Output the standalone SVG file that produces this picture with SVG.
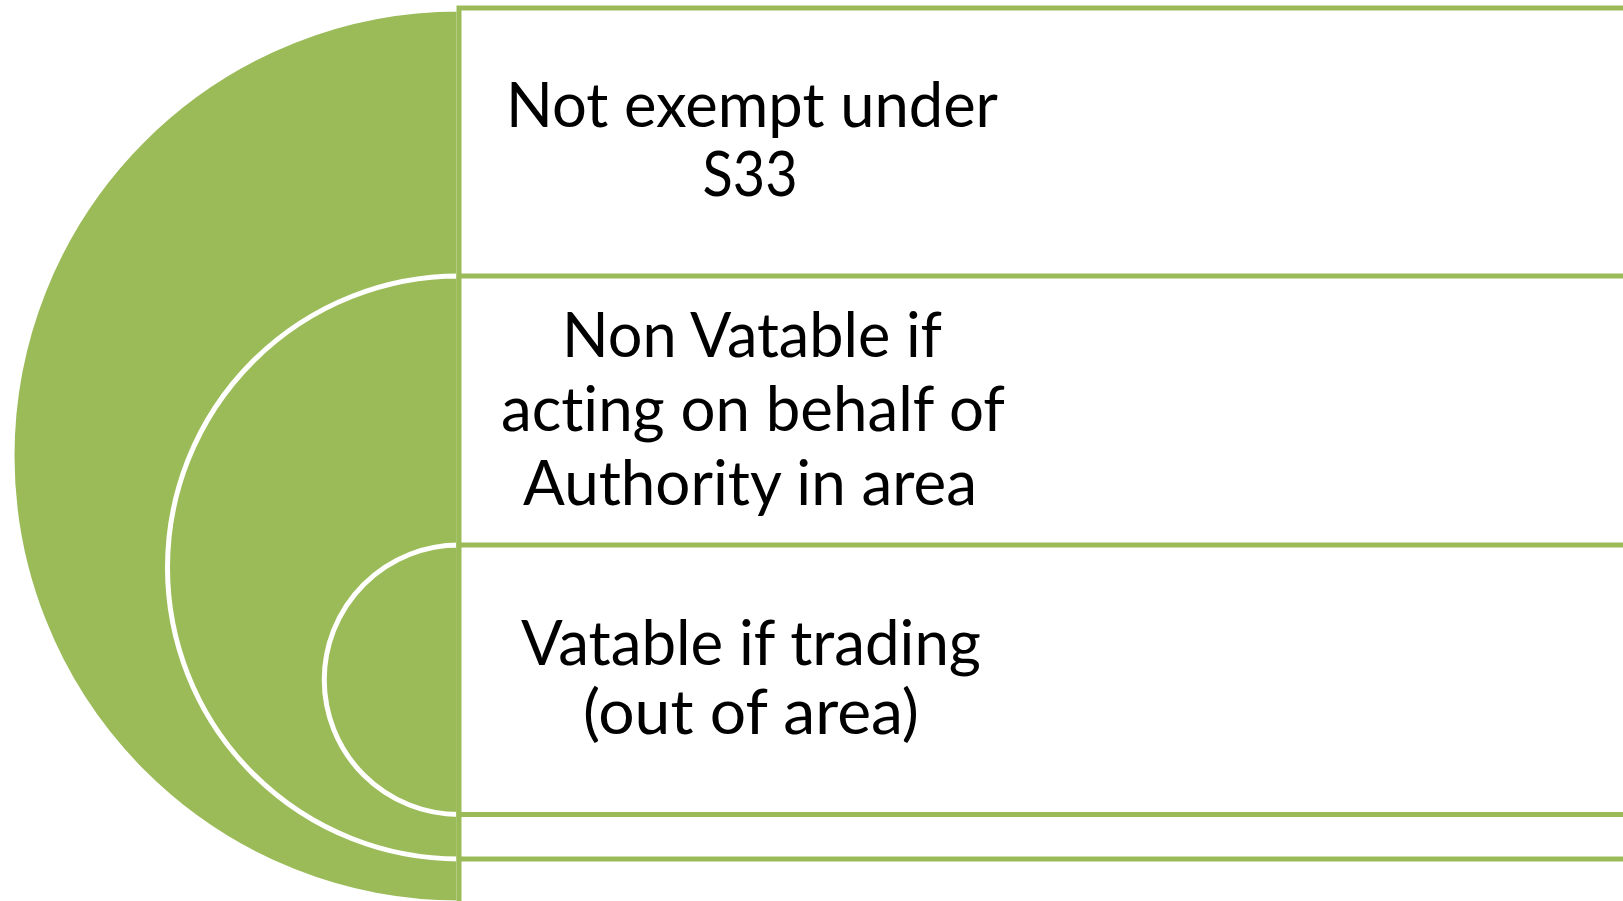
<svg xmlns="http://www.w3.org/2000/svg" width="1623" height="901" viewBox="0 0 1623 901">
<style>
.arc{fill:#9BBB59;stroke:#FFFFFF;stroke-width:5}
.box{fill:#FFFFFF;stroke:#9BBB59;stroke-width:5}
.lbl{font-family:Lato,"Open Sans","Liberation Sans",sans-serif;font-size:61px;fill:#000000;text-anchor:middle;font-variant-ligatures:none}
</style>
<rect x="0" y="0" width="1623" height="901" fill="#FFFFFF"/>
<g id="ring-outer"><path class="arc" d="M459,9 A447,447 0 0 0 459,903 Z"/></g>
<g id="ring-middle"><path class="arc" d="M459,276 A291.5,291.5 0 0 0 459,859 Z"/></g>
<g id="ring-inner"><path class="arc" d="M459,545 A134.75,134.75 0 0 0 459,814.5 Z"/></g>
<g id="node-1">
<rect class="box" x="459" y="8" width="1300" height="1000"/>
<text class="lbl"><tspan x="752" y="127" textLength="492" lengthAdjust="spacingAndGlyphs">Not exempt under</tspan><tspan x="750" y="196" textLength="95" lengthAdjust="spacingAndGlyphs">S33</tspan></text>
</g>
<g id="node-2">
<rect class="box" x="459" y="276" width="1300" height="583"/>
<text class="lbl"><tspan x="752" y="357" textLength="380" lengthAdjust="spacingAndGlyphs">Non Vatable if</tspan><tspan x="753" y="431" textLength="504" lengthAdjust="spacingAndGlyphs">acting on behalf of</tspan><tspan x="750" y="505" textLength="454" lengthAdjust="spacingAndGlyphs">Authority in area</tspan></text>
</g>
<g id="node-3">
<rect class="box" x="459" y="545" width="1300" height="269.5"/>
<text class="lbl"><tspan x="751" y="665" textLength="460" lengthAdjust="spacingAndGlyphs">Vatable if trading</tspan><tspan x="751" y="734" textLength="336" lengthAdjust="spacingAndGlyphs">(out of area)</tspan></text>
</g>
<g id="connectors"></g>
</svg>
